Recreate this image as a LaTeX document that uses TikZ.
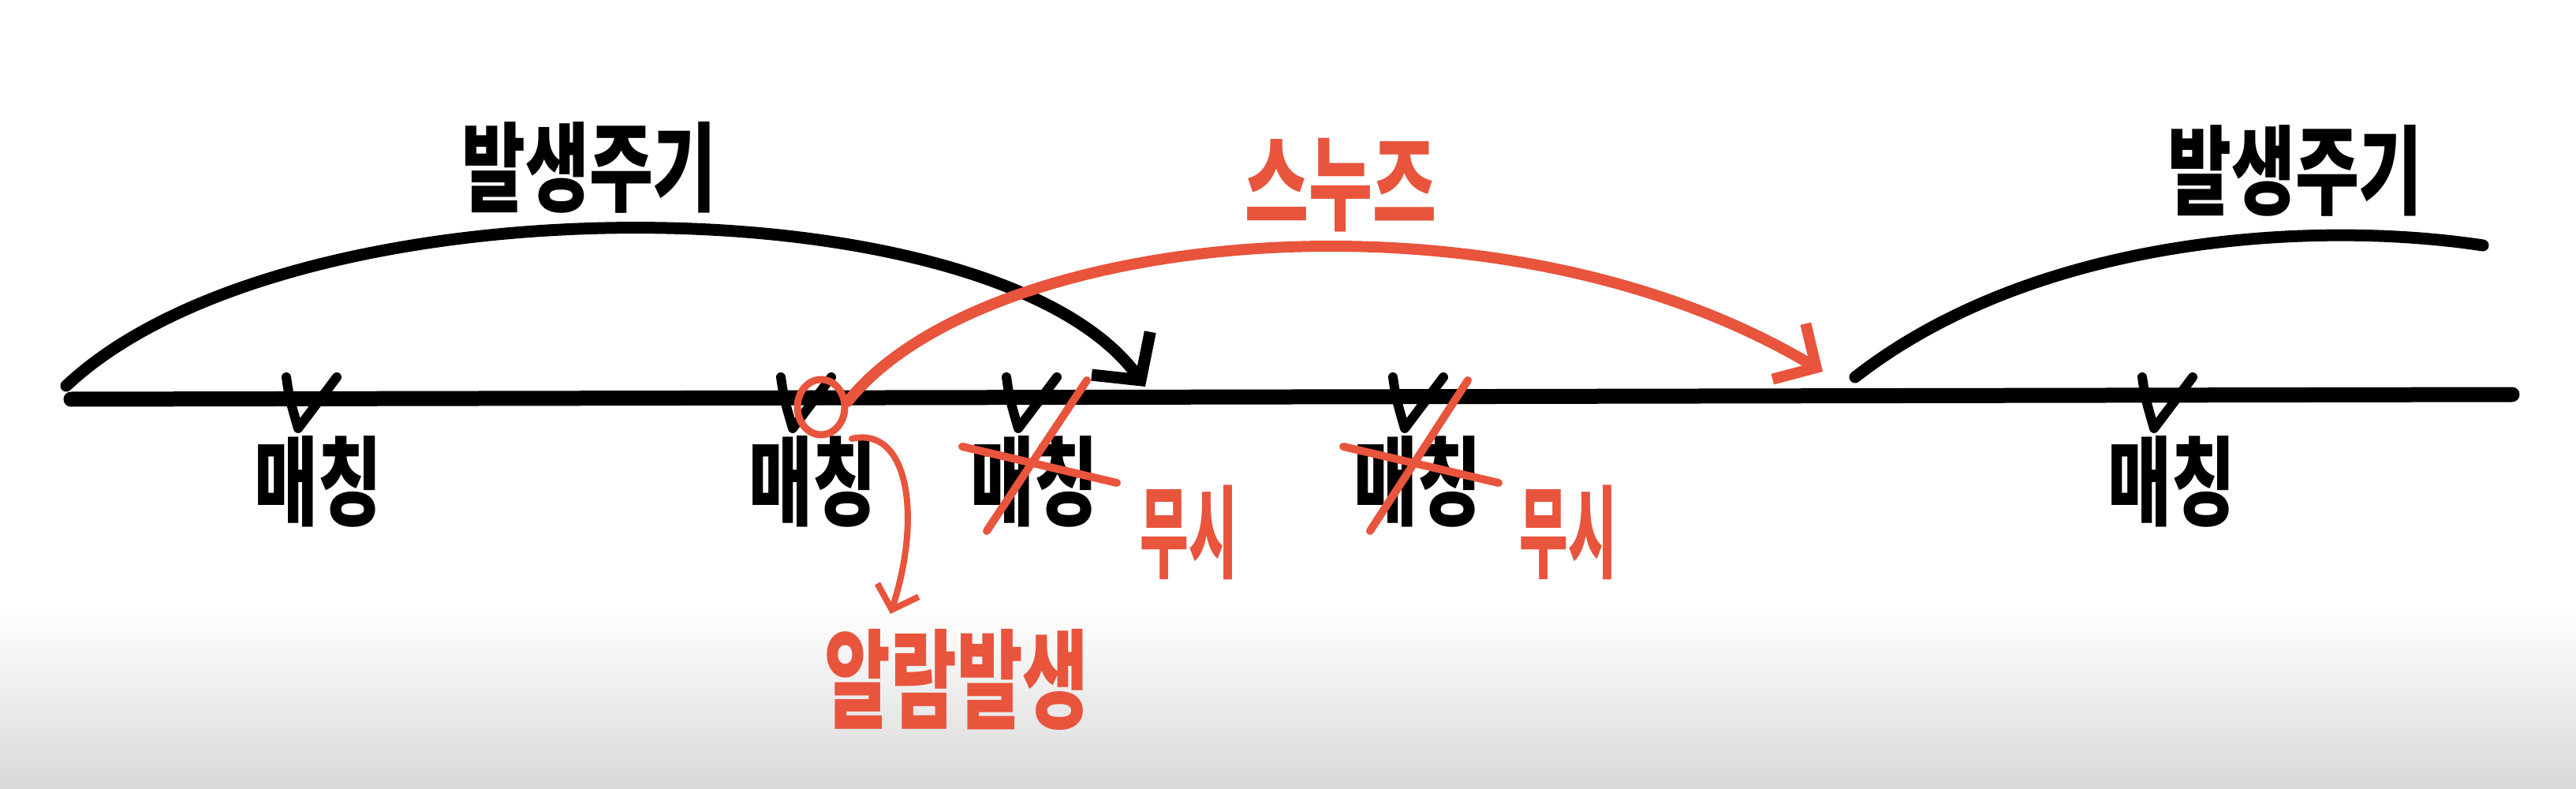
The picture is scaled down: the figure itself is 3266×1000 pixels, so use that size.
\documentclass[tikz,border=0pt]{standalone}
\usepackage{graphicx}
\usepackage{fontspec}
\newfontfamily\kr{Noto Sans CJK KR}
\usetikzlibrary{arrows.meta,shapes.geometric}
\definecolor{pen}{RGB}{232,84,60}
\newcommand\tallt[2]{\scalebox{1}[#1]{#2}}
\begin{document}
\begin{tikzpicture}[x=1pt,y=-1pt,
  axisline/.style={line width=19pt, line cap=round},
  blackarc/.style={line width=15pt, line cap=round},
  redarc/.style={draw=pen, line width=14pt, line cap=round},
  strike/.style={draw=pen, line width=10pt, line cap=round},
  lbl/.style={inner sep=0pt, font=\kr\bfseries\fontsize{88}{88}\selectfont},
  redlbl/.style={lbl, text=pen},
  vtick/.pic={\draw[line width=12pt, line cap=round, line join=round]
     (-22,-22) .. controls (-18,5) .. (-7,43) -- (42,-22);}
  ]
% background
\fill[white] (0,0) rectangle (3266,1000);
\shade[top color=white, bottom color=gray!30] (0,770) rectangle (3266,1000);
\useasboundingbox (0,0) rectangle (3266,1000);

% time axis
\coordinate (L) at (90,506);
\coordinate (R) at (3185,500);
\draw[axisline] (L) -- (R);

% ticks
\pic at (385,500) {vtick};
\pic at (1012,500) {vtick};
\pic at (1298,500) {vtick};
\pic at (1788,500) {vtick};
\pic at (2738,500) {vtick};

% match labels
\node[lbl] (m1) at (403,610) {\tallt{1.4}{매칭}};
\node[lbl] (m2) at (1030,610) {\tallt{1.4}{매칭}};
\node[lbl] (m3) at (1311,610) {\tallt{1.4}{매칭}};
\node[lbl] (m4) at (1797,610) {\tallt{1.4}{매칭}};
\node[lbl] (m5) at (2753,610) {\tallt{1.4}{매칭}};

% period labels
\node[lbl] (p1) at (747,212) {\tallt{1.4}{발생주기}};
\node[lbl] (p2) at (2910,216) {\tallt{1.4}{발생주기}};

% black arcs
\coordinate (b0) at (84,489);
\coordinate (b1) at (1452,490);
\draw[blackarc, -{Straight Barb[length=42pt,width=92pt]}]
  (b0) .. controls (370,220) and (1260,228) .. (b1);
\coordinate (c0) at (2352,478);
\coordinate (c1) at (3148,311);
\draw[blackarc] (c0) .. controls (2580,300) and (2930,278) .. (c1);

% red ring on matched tick
\node[ellipse, draw=pen, line width=9pt, minimum width=60pt, minimum height=70pt, inner sep=0pt] (ring) at (1041,516) {};

% snooze arc
\coordinate (s1) at (2311,471);
\draw[redarc, -{Straight Barb[length=40pt,width=82pt]}]
  (ring.12) .. controls (1250,290) and (1900,225) .. (s1);
\node[redlbl] (snz) at (1700,235) {\tallt{1.5}{스누즈}};

% alarm arrow
\coordinate (a0) at (1080,556);
\node[redlbl, font=\kr\bfseries\fontsize{91}{91}\selectfont] (alarm) at (1213,862) {\tallt{1.5}{알람발생}};
\coordinate (a1) at (1129,778);
\draw[redarc, line width=8pt, -{Straight Barb[length=26pt,width=55pt]}]
  (a0) .. controls (1150,540) and (1170,650) .. (a1);

% ignored matches
\draw[strike] (1378,482) -- (1251,673);
\draw[strike] (1220,566) -- (1416,612);
\draw[strike] (1861,482) -- (1737,673);
\draw[strike] (1703,566) -- (1900,612);
\node[redlbl, font=\kr\bfseries\fontsize{67}{67}\selectfont] (i1) at (1507,675) {\tallt{1.9}{무시}};
\node[redlbl, font=\kr\bfseries\fontsize{67}{67}\selectfont] (i2) at (1988,675) {\tallt{1.9}{무시}};
\end{tikzpicture}
\end{document}
